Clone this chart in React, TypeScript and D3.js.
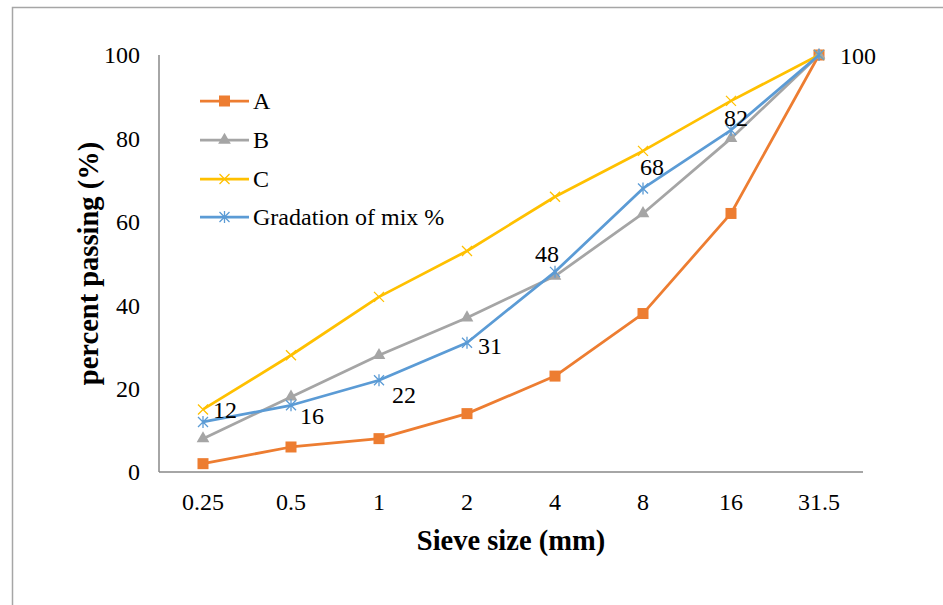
import React, { useEffect, useRef } from "react";
import * as d3 from "d3";

const categories = ["0.25", "0.5", "1", "2", "4", "8", "16", "31.5"];
const seriesA = [2, 6, 8, 14, 23, 38, 62, 100];
const seriesB = [8, 18, 28, 37, 47, 62, 80, 100];
const seriesC = [15, 28, 42, 53, 66, 77, 89, 100];
const seriesMix = [12, 16, 22, 31, 48, 68, 82, 100];
const yTicks = [0, 20, 40, 60, 80, 100];
const seriesNames = ["A", "B", "C", "Gradation of mix %"];

// label placement for Mix values: [dx, dy, anchor]
const labelPlacement: [number, number, string][] = [
  [10, -12, "start"],
  [9, 10, "start"],
  [13, 14, "start"],
  [11, 3, "start"],
  [-8, -18, "middle"],
  [9, -22, "middle"],
  [5, -12, "middle"],
  [21, 1, "start"],
];

const W = 943;
const H = 605;
const colors = ["#ED7D31", "#A5A5A5", "#FFC000", "#5B9BD5"];
const FONT = "'Liberation Serif', 'Times New Roman', serif";

export default function App() {
  const ref = useRef<SVGSVGElement>(null);
  useEffect(() => {
    const svg = d3.select(ref.current);
    svg.selectAll("*").remove();

    const left = 159, right = 863, top = 55, bottom = 472;
    const x = d3.scalePoint<string>().domain(categories).range([left, right]).padding(0.5);
    const y = d3.scaleLinear().domain([0, 100]).range([bottom, top]);

    svg.append("rect").attr("width", W).attr("height", H).attr("fill", "#fff");
    // frame
    svg.append("rect").attr("x", 12.5).attr("y", 7.5).attr("width", W + 20).attr("height", H + 20)
      .attr("fill", "none").attr("stroke", "#A6A6A6").attr("stroke-width", 1.5);

    // axes
    svg.append("line").attr("x1", left).attr("x2", left).attr("y1", top).attr("y2", bottom)
      .attr("stroke", "#898989").attr("stroke-width", 1.5);
    svg.append("line").attr("x1", left).attr("x2", right).attr("y1", bottom).attr("y2", bottom)
      .attr("stroke", "#898989").attr("stroke-width", 1.5);

    svg.append("g").selectAll("text").data(yTicks).join("text")
      .attr("x", 140).attr("y", d => y(d)).attr("dy", "0.35em")
      .attr("text-anchor", "end").attr("font-family", FONT).attr("font-size", 24)
      .text(d => d);

    svg.append("g").selectAll("text").data(categories).join("text")
      .attr("x", d => x(d)!).attr("y", 502).attr("dy", "0.35em")
      .attr("text-anchor", "middle").attr("font-family", FONT).attr("font-size", 24)
      .text(d => d);

    svg.append("text").attr("x", 511).attr("y", 540).attr("dy", "0.35em")
      .attr("text-anchor", "middle").attr("font-family", FONT).attr("font-size", 28.5)
      .attr("font-weight", "bold").text("Sieve size (mm)");
    svg.append("text").attr("transform", `translate(88,${(top + bottom) / 2}) rotate(-90)`)
      .attr("dy", "0.35em").attr("text-anchor", "middle").attr("font-family", FONT)
      .attr("font-size", 28.5).attr("font-weight", "bold").text("percent passing (%)");

    const drawMarker = (g: any, kind: number, cx: number, cy: number) => {
      const c = colors[kind];
      if (kind === 0) {
        g.append("rect").attr("x", cx - 5.5).attr("y", cy - 5.5).attr("width", 11).attr("height", 11).attr("fill", c);
      } else if (kind === 1) {
        g.append("path").attr("d", d3.symbol().type(d3.symbolTriangle).size(70)()!)
          .attr("transform", `translate(${cx},${cy})`).attr("fill", c);
      } else if (kind === 2) {
        const s = 5;
        g.append("path").attr("d", `M${cx - s},${cy - s}L${cx + s},${cy + s}M${cx - s},${cy + s}L${cx + s},${cy - s}`)
          .attr("stroke", c).attr("stroke-width", 1.3).attr("fill", "none");
      } else {
        const s = 5;
        g.append("path").attr("d", `M${cx - s},${cy - s}L${cx + s},${cy + s}M${cx - s},${cy + s}L${cx + s},${cy - s}M${cx},${cy - s - 1}L${cx},${cy + s + 1}`)
          .attr("stroke", c).attr("stroke-width", 1.3).attr("fill", "none");
      }
    };

    const all = [seriesA, seriesB, seriesC, seriesMix];
    const line = d3.line<number>().x((_, i) => x(categories[i])!).y(d => y(d));
    all.forEach((vals, k) => {
      const g = svg.append("g");
      g.append("path").attr("d", line(vals)!).attr("fill", "none").attr("stroke", colors[k])
        .attr("stroke-width", 2.75).attr("stroke-linejoin", "round");
      vals.forEach((v, i) => drawMarker(g, k, x(categories[i])!, y(v)));
    });

    // data labels for mix
    svg.append("g").selectAll("text").data(seriesMix).join("text")
      .attr("x", (d, i) => x(categories[i])! + labelPlacement[i][0])
      .attr("y", (d, i) => y(d) + labelPlacement[i][1]).attr("dy", "0.35em")
      .attr("text-anchor", (d, i) => labelPlacement[i][2])
      .attr("font-family", FONT).attr("font-size", 24).text(d => d);

    // legend
    const ly = [101, 140, 179, 217];
    seriesNames.forEach((name, k) => {
      const g = svg.append("g");
      g.append("line").attr("x1", 200).attr("x2", 249).attr("y1", ly[k]).attr("y2", ly[k])
        .attr("stroke", colors[k]).attr("stroke-width", 2.75);
      drawMarker(g, k, 224.5, ly[k]);
      g.append("text").attr("x", 253).attr("y", ly[k]).attr("dy", "0.35em")
        .attr("font-family", FONT).attr("font-size", 24).text(name);
    });
  }, []);

  return (
    <svg ref={ref} width={W} height={H}
      style={{ position: "absolute", left: 0, top: 0, display: "block" }} />
  );
}
